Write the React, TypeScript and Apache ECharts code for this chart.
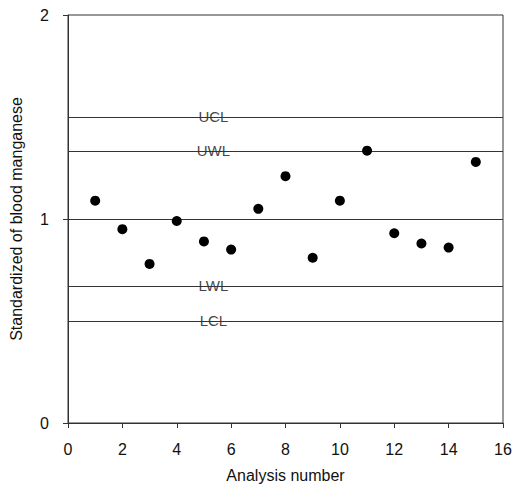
import React, { useEffect, useRef } from "react";
import * as echarts from "echarts";

const analysisNumbers = [1, 2, 3, 4, 5, 6, 7, 8, 9, 10, 11, 12, 13, 14, 15];
const standardizedMn = [1.09, 0.95, 0.78, 0.99, 0.89, 0.85, 1.05, 1.21, 0.81, 1.09, 1.335, 0.93, 0.88, 0.86, 1.28];
const limitNames = ["UCL", "UWL", "LWL", "LCL"];
const limitValues = [1.5, 1.333, 0.667, 0.5];
const centerLine = 1;
const limitLabelX = 5.35;

export default function App() {
  const ref = useRef<HTMLDivElement>(null);
  useEffect(() => {
    if (!ref.current) return;
    const chart = echarts.init(ref.current, null, { renderer: "svg" });
    const font = "'Liberation Sans', Arial, sans-serif";
    const lineColor = "#333";
    chart.setOption({
      animation: false,
      backgroundColor: "#fff",
      textStyle: { fontFamily: font },
      grid: {
        left: 65,
        right: 26,
        top: 15,
        bottom: 61,
        show: true,
        borderColor: lineColor,
        borderWidth: 1,
      },
      xAxis: {
        type: "value",
        min: 0,
        max: 16,
        interval: 2,
        name: "Analysis number",
        nameLocation: "middle",
        nameGap: 44,
        nameTextStyle: { fontSize: 16, color: "#111", fontFamily: font },
        axisLine: { show: true, lineStyle: { color: lineColor, width: 1 } },
        axisTick: { show: true, length: 5, inside: false, lineStyle: { color: lineColor } },
        axisLabel: { fontSize: 16, color: "#111", margin: 18, fontFamily: font },
        splitLine: { show: false },
      },
      yAxis: {
        type: "value",
        min: 0,
        max: 2,
        interval: 1,
        name: "Standardized of blood manganese",
        nameLocation: "middle",
        nameGap: 44,
        nameRotate: 90,
        nameTextStyle: { fontSize: 16, color: "#111", fontFamily: font },
        axisLine: { show: true, lineStyle: { color: lineColor, width: 1 } },
        axisTick: { show: true, length: 5, inside: false, lineStyle: { color: lineColor } },
        axisLabel: { fontSize: 16, color: "#111", margin: 19, fontFamily: font },
        splitLine: { show: false },
      },
      series: [
        {
          type: "scatter",
          data: analysisNumbers.map((x, i) => [x, standardizedMn[i]]),
          symbol: "circle",
          symbolSize: 10,
          itemStyle: { color: "#000", opacity: 1 },
          z: 5,
          markLine: {
            silent: true,
            symbol: "none",
            label: { show: false },
            lineStyle: { color: lineColor, width: 1, type: "solid" },
            data: [...limitValues, centerLine].map((v) => ({ yAxis: v })),
          },
        },
        {
          type: "scatter",
          data: limitNames.map((n, i) => ({ name: n, value: [limitLabelX, limitValues[i]] })),
          symbolSize: 0,
          z: 4,
          label: {
            show: true,
            position: "inside",
            formatter: "{b}",
            fontSize: 15,
            color: "#111",
            fontFamily: font,
            offset: [0, -1],
          },
        },
      ],
    });
    return () => chart.dispose();
  }, []);
  return <div ref={ref} style={{ width: 529, height: 488, position: "absolute", left: 0, top: 0 }} />;
}
